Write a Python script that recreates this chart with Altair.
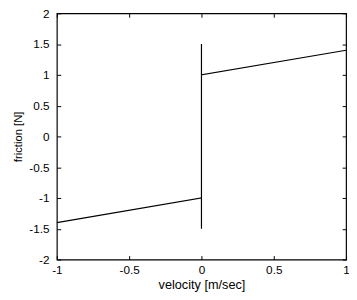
import altair as alt
import pandas as pd

# friction characteristic: viscous + Coulomb with stiction spike at v=0
velocity = [-1.0, 0.0, 0.0, 0.0, 0.0, 1.0]
friction = [-1.4, -1.0, -1.5, 1.5, 1.0, 1.4]
order = [0, 1, 2, 3, 4, 5]

x_ticks = [-1, -0.5, 0, 0.5, 1]
y_ticks = [-2, -1.5, -1, -0.5, 0, 0.5, 1, 1.5, 2]

df = pd.DataFrame({"v": velocity, "f": friction, "o": order})

FONT = "Liberation Sans"
LBL = "datum.value + ''"

xs = alt.Scale(domain=[-1, 1], nice=False, zero=False)
ys = alt.Scale(domain=[-2, 2], nice=False, zero=False)

main = alt.Chart(df).mark_line(color="black", strokeWidth=1.2).encode(
    x=alt.X("v:Q", scale=xs, title="velocity [m/sec]",
            axis=alt.Axis(values=x_ticks, orient="bottom", offset=-4, tickSize=4,
                          domain=False, grid=False, labelPadding=5, titlePadding=4,
                          labelExpr=LBL,
                          labelFont=FONT, labelFontSize=12, titleFont=FONT,
                          titleFontSize=13, titleFontWeight="normal",
                          tickColor="black", labelColor="black", titleColor="black",
                          labelFlush=False, labelOverlap=False)),
    y=alt.Y("f:Q", scale=ys, title="friction [N]",
            axis=alt.Axis(values=y_ticks, orient="left", offset=-4, tickSize=4,
                          domain=False, grid=False, labelPadding=8, titlePadding=5,
                          labelExpr=LBL,
                          labelFont=FONT, labelFontSize=12, titleFont=FONT,
                          titleFontSize=11.5, titleFontWeight="normal",
                          tickColor="black", labelColor="black", titleColor="black",
                          labelFlush=False, labelOverlap=False)),
    order="o:Q",
)

frame = alt.Chart(df).mark_line(opacity=0).encode(
    x=alt.X("v:Q", scale=xs, axis=alt.Axis(values=x_ticks, orient="top", offset=-4, tickSize=4,
                                         domain=False, grid=False, labels=False, title=None,
                                         tickColor="black")),
    y=alt.Y("f:Q", scale=ys, axis=alt.Axis(values=y_ticks, orient="right", offset=-4, tickSize=4,
                                         domain=False, grid=False, labels=False, title=None,
                                         tickColor="black")),
    order="o:Q",
)

chart = alt.layer(main, frame).resolve_axis(x="independent", y="independent").properties(
    width=296, height=252,
    autosize=alt.AutoSizeParams(type="none"),
    padding={"left": 50, "top": 2, "right": 3, "bottom": 38},
    background="white",
).configure_view(stroke="black", strokeWidth=1.2)

chart.save("out.html", embed_options={"renderer": "svg", "actions": False})
